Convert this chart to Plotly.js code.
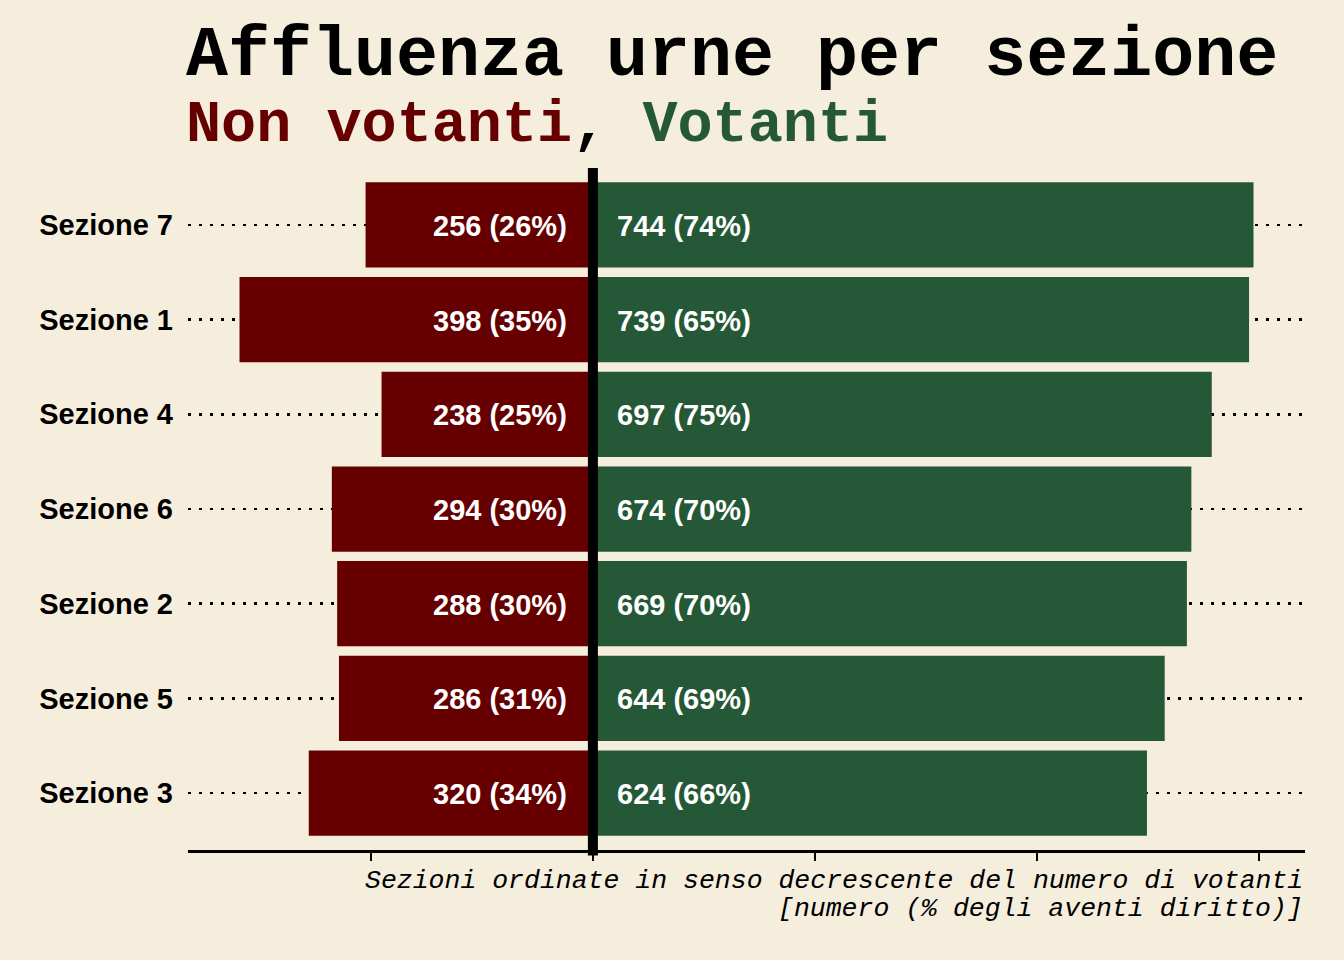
<!DOCTYPE html>
<html>
<head>
<meta charset="utf-8">
<script src="https://cdn.plot.ly/plotly-3.0.1.min.js"></script>
<style>
  body { margin: 0; background: #f5eedd; }
  #chart { width: 1344px; height: 960px; }
</style>
</head>
<body>
<div id="chart"></div>
<script>
// sezioni, dall'alto verso il basso
var sezioni = ["Sezione 7", "Sezione 1", "Sezione 4", "Sezione 6", "Sezione 2", "Sezione 5", "Sezione 3"];
var nonVotanti = [256, 398, 238, 294, 288, 286, 320];
var pctNon = [26, 35, 25, 30, 30, 31, 34];
var votanti = [744, 739, 697, 674, 669, 644, 624];
var pctVot = [74, 65, 75, 70, 70, 69, 66];
var tickPos = [-250, 0, 250, 500, 750];

var ROSSO = "#660000";
var VERDE = "#255836";
var SFONDO = "#f5eedd";
var MONO = "Courier New, Courier, Nimbus Mono PS, Nimbus Mono L, FreeMono, Liberation Mono, monospace";
var SANS = "Liberation Sans, Arial, Helvetica, sans-serif";

var traceNon = {
	type: "bar",
	orientation: "h",
	y: sezioni,
	x: nonVotanti.map(function (v) { return -v; }),
	marker: { color: ROSSO },
	width: 0.9,
	hoverinfo: "skip"
};

var traceVot = {
	type: "bar",
	orientation: "h",
	y: sezioni,
	x: votanti,
	marker: { color: VERDE },
	width: 0.9,
	hoverinfo: "skip"
};

var labelFont = { family: SANS, size: 29, color: "white", weight: "bold" };
var annotations = [];

for (var i = 0; i < sezioni.length; i++) {
	annotations.push({
		x: 0, y: sezioni[i], xref: "x", yref: "y",
		text: nonVotanti[i] + " (" + pctNon[i] + "%)",
		showarrow: false, xanchor: "right", xshift: -24, yshift: -1,
		font: labelFont
	});
	annotations.push({
		x: 0, y: sezioni[i], xref: "x", yref: "y",
		text: votanti[i] + " (" + pctVot[i] + "%)",
		showarrow: false, xanchor: "left", xshift: 22, yshift: -1,
		font: labelFont
	});
}

// titolo e sottotitolo
annotations.push({
	xref: "paper", yref: "paper", x: -0.004, y: 1.163,
	xanchor: "left", yanchor: "middle", showarrow: false,
	text: "Affluenza urne per sezione",
	font: { family: MONO, size: 70, color: "black", weight: "bold" }
});
annotations.push({
	xref: "paper", yref: "paper", x: -0.004, y: 1.062,
	xanchor: "left", yanchor: "middle", showarrow: false,
	text: "<span style='color:" + ROSSO + "'>Non votanti</span>, <span style='color:" + VERDE + "'>Votanti</span>",
	font: { family: MONO, size: 58.5, color: "black", weight: "bold" }
});
// didascalia asse, due righe
annotations.push({
	xref: "paper", yref: "paper", x: 1, y: -0.045,
	xanchor: "right", yanchor: "middle", showarrow: false,
	text: "Sezioni ordinate in senso decrescente del numero di votanti",
	font: { family: MONO, size: 26.5, color: "black", style: "italic" }
});
annotations.push({
	xref: "paper", yref: "paper", x: 1, y: -0.087,
	xanchor: "right", yanchor: "middle", showarrow: false,
	text: "[numero (% degli aventi diritto)]",
	font: { family: MONO, size: 26.5, color: "black", style: "italic" }
});

var layout = {
	width: 1344,
	height: 960,
	margin: { l: 188, r: 39, t: 168, b: 110 },
	paper_bgcolor: SFONDO,
	plot_bgcolor: SFONDO,
	showlegend: false,
	barmode: "relative",
	xaxis: {
		range: [-456, 802],
		showgrid: false,
		zeroline: false,
		showline: true,
		linecolor: "black",
		linewidth: 2.5,
		ticks: "outside",
		ticklen: 8,
		tickwidth: 2,
		tickcolor: "black",
		tickvals: tickPos,
		showticklabels: false,
		fixedrange: true
	},
	yaxis: {
		type: "category",
		categoryorder: "array",
		categoryarray: sezioni,
		range: [6.6, -0.6],
		showgrid: true,
		gridcolor: "black",
		gridwidth: 2.5,
		griddash: "2.5px,8.5px",
		zeroline: false,
		showline: false,
		ticks: "",
		ticklabelstandoff: 14,
		tickfont: { family: SANS, size: 29, color: "black", weight: "bold" },
		fixedrange: true
	},
	shapes: [{
		type: "line", xref: "x", yref: "paper",
		x0: 0, x1: 0, y0: -0.008, y1: 1,
		line: { color: "black", width: 10 },
		layer: "above"
	}],
	annotations: annotations
};

Plotly.newPlot("chart", [traceNon, traceVot], layout, { displayModeBar: false, staticPlot: true });
</script>
</body>
</html>
